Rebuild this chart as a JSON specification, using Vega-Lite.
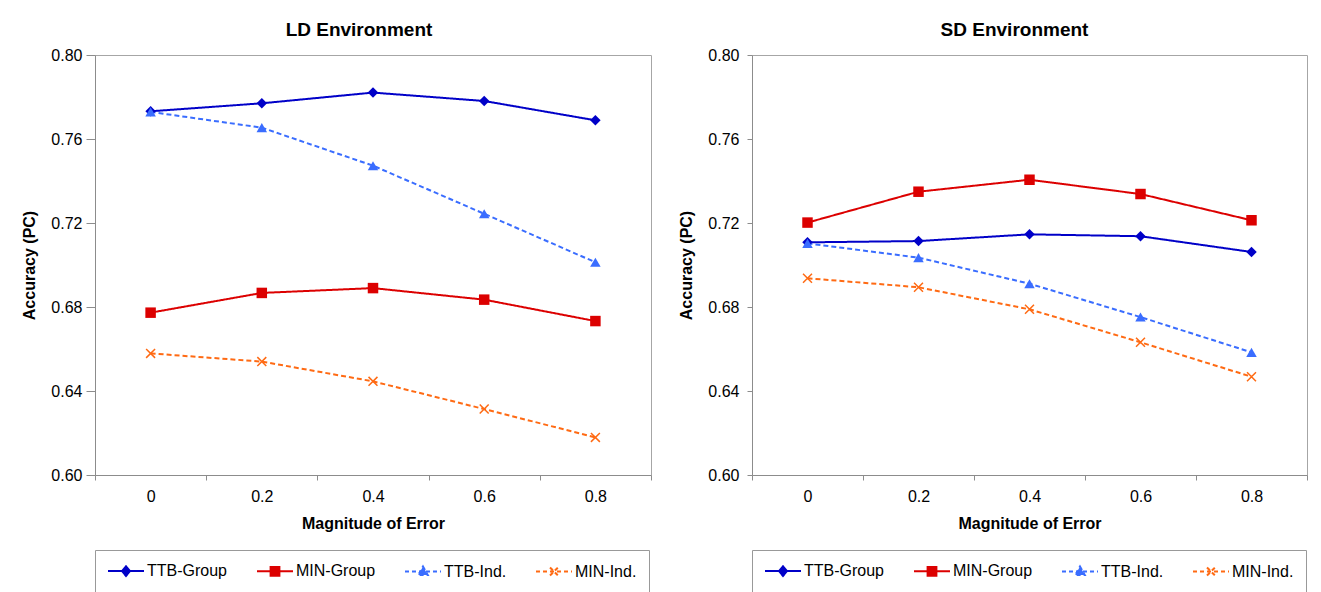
{
  "$schema": "https://vega.github.io/schema/vega-lite/v6.json",
  "background": "white",
  "padding": {"left": 21, "top": 20, "right": 5, "bottom": 0},
  "data": {"values": [
    {"panel": "LD", "series": "TTB-Group", "err": "0", "acc": 0.7732},
    {"panel": "LD", "series": "TTB-Group", "err": "0.2", "acc": 0.7770},
    {"panel": "LD", "series": "TTB-Group", "err": "0.4", "acc": 0.7821},
    {"panel": "LD", "series": "TTB-Group", "err": "0.6", "acc": 0.7781},
    {"panel": "LD", "series": "TTB-Group", "err": "0.8", "acc": 0.7689},
    {"panel": "LD", "series": "MIN-Group", "err": "0", "acc": 0.6773},
    {"panel": "LD", "series": "MIN-Group", "err": "0.2", "acc": 0.6867},
    {"panel": "LD", "series": "MIN-Group", "err": "0.4", "acc": 0.6890},
    {"panel": "LD", "series": "MIN-Group", "err": "0.6", "acc": 0.6835},
    {"panel": "LD", "series": "MIN-Group", "err": "0.8", "acc": 0.6733},
    {"panel": "LD", "series": "TTB-Ind.", "err": "0", "acc": 0.7729},
    {"panel": "LD", "series": "TTB-Ind.", "err": "0.2", "acc": 0.7654},
    {"panel": "LD", "series": "TTB-Ind.", "err": "0.4", "acc": 0.7473},
    {"panel": "LD", "series": "TTB-Ind.", "err": "0.6", "acc": 0.7244},
    {"panel": "LD", "series": "TTB-Ind.", "err": "0.8", "acc": 0.7013},
    {"panel": "LD", "series": "MIN-Ind.", "err": "0", "acc": 0.6579},
    {"panel": "LD", "series": "MIN-Ind.", "err": "0.2", "acc": 0.6540},
    {"panel": "LD", "series": "MIN-Ind.", "err": "0.4", "acc": 0.6446},
    {"panel": "LD", "series": "MIN-Ind.", "err": "0.6", "acc": 0.6314},
    {"panel": "LD", "series": "MIN-Ind.", "err": "0.8", "acc": 0.6179},
    {"panel": "SD", "series": "TTB-Group", "err": "0", "acc": 0.7108},
    {"panel": "SD", "series": "TTB-Group", "err": "0.2", "acc": 0.7114},
    {"panel": "SD", "series": "TTB-Group", "err": "0.4", "acc": 0.7146},
    {"panel": "SD", "series": "TTB-Group", "err": "0.6", "acc": 0.7137},
    {"panel": "SD", "series": "TTB-Group", "err": "0.8", "acc": 0.7062},
    {"panel": "SD", "series": "MIN-Group", "err": "0", "acc": 0.7202},
    {"panel": "SD", "series": "MIN-Group", "err": "0.2", "acc": 0.7349},
    {"panel": "SD", "series": "MIN-Group", "err": "0.4", "acc": 0.7406},
    {"panel": "SD", "series": "MIN-Group", "err": "0.6", "acc": 0.7338},
    {"panel": "SD", "series": "MIN-Group", "err": "0.8", "acc": 0.7213},
    {"panel": "SD", "series": "TTB-Ind.", "err": "0", "acc": 0.7103},
    {"panel": "SD", "series": "TTB-Ind.", "err": "0.2", "acc": 0.7035},
    {"panel": "SD", "series": "TTB-Ind.", "err": "0.4", "acc": 0.6911},
    {"panel": "SD", "series": "TTB-Ind.", "err": "0.6", "acc": 0.6752},
    {"panel": "SD", "series": "TTB-Ind.", "err": "0.8", "acc": 0.6584},
    {"panel": "SD", "series": "MIN-Ind.", "err": "0", "acc": 0.6937},
    {"panel": "SD", "series": "MIN-Ind.", "err": "0.2", "acc": 0.6894},
    {"panel": "SD", "series": "MIN-Ind.", "err": "0.4", "acc": 0.6789},
    {"panel": "SD", "series": "MIN-Ind.", "err": "0.6", "acc": 0.6632},
    {"panel": "SD", "series": "MIN-Ind.", "err": "0.8", "acc": 0.6468}
  ]},
  "config": {
    "font": "Liberation Sans",
    "view": {"stroke": "#a6a6a6", "strokeWidth": 1},
    "axis": {"labelFont": "Liberation Sans", "labelFontSize": 16, "labelColor": "#000", "titleFont": "Liberation Sans", "titleFontSize": 16, "titleFontWeight": "bold", "titleColor": "#000", "domainColor": "#8c8c8c", "tickColor": "#8c8c8c", "grid": false},
    "title": {"font": "Liberation Sans", "fontSize": 19, "fontWeight": "bold", "color": "#000"},
    "legend": {"labelFont": "Liberation Sans", "labelFontSize": 16, "labelColor": "#000", "orient": "bottom", "direction": "horizontal", "columns": 4, "symbolSize": 256, "symbolStrokeWidth": 2, "symbolOffset": 10, "labelOffset": 12, "columnPadding": 25, "padding": 12, "strokeColor": "#999", "fillColor": "white", "offset": 19},
    "concat": {"spacing": 26}
  },
  "resolve": {"legend": {"color": "independent"}},
  "hconcat": [
    {
      "title": {"text": "LD Environment", "offset": 7, "dx": -14},
      "width": 556, "height": 420,
      "transform": [{"filter": "datum.panel === 'LD'"}],
      "encoding": {
        "x": {"field": "err", "type": "ordinal", "sort": ["0", "0.2", "0.4", "0.6", "0.8"], "scale": {"type": "band", "paddingInner": 0, "paddingOuter": 0}, "axis": {"title": "Magnitude of Error", "labelAngle": 0, "tickBand": "extent", "tickSize": 5, "labelPadding": 8, "titlePadding": 11}},
        "y": {"field": "acc", "type": "quantitative", "scale": {"domain": [0.6, 0.8], "zero": false, "nice": false}, "axis": {"title": "Accuracy (PC)", "values": [0.6, 0.64, 0.68, 0.72, 0.76, 0.8], "format": ".2f", "tickSize": 9, "labelPadding": 4, "titlePadding": 13}}
      },
      "layer": [
        {"mark": {"type": "line", "strokeWidth": 2},
         "encoding": {
           "color": {"field": "series", "type": "nominal", "scale": {"domain": ["TTB-Group", "MIN-Group", "TTB-Ind.", "MIN-Ind."], "range": ["#0000c8", "#dc0000", "#3a6dff", "#ff6a13"]},
             "legend": {"title": null, "encode": {"symbols": {"update": {
               "shape": {"signal": "datum.value === 'TTB-Group' ? 'M-2.25,0H2.25M0,-0.6L0.5,0L0,0.6L-0.5,0Z' : datum.value === 'MIN-Group' ? 'M-2.25,0H2.25M-0.55,-0.55H0.55V0.55H-0.55Z' : datum.value === 'TTB-Ind.' ? 'M-2.25,0H2.25M0,-0.62L0.6,0.45H-0.6Z' : 'M-2.25,0H2.25M-0.5,-0.5L0.5,0.5M-0.5,0.5L0.5,-0.5'"},
               "fill": {"signal": "datum.value === 'TTB-Group' ? '#0000c8' : datum.value === 'MIN-Group' ? '#dc0000' : datum.value === 'TTB-Ind.' ? '#3a6dff' : '#ff6a13'"},
               "stroke": {"signal": "datum.value === 'TTB-Group' ? '#0000c8' : datum.value === 'MIN-Group' ? '#dc0000' : datum.value === 'TTB-Ind.' ? '#3a6dff' : '#ff6a13'"},
               "strokeDash": {"signal": "indexof(datum.value, 'Ind') >= 0 ? [4, 3] : [1, 0]"},
               "strokeWidth": {"value": 2},
               "opacity": {"value": 1}}}}}},
           "strokeDash": {"field": "series", "type": "nominal", "scale": {"domain": ["TTB-Group", "MIN-Group", "TTB-Ind.", "MIN-Ind."], "range": [[1, 0], [1, 0], [5, 3], [5, 3]]}, "legend": null}
         }},
        {"transform": [{"filter": "datum.series !== 'MIN-Ind.'"}],
         "mark": {"type": "point", "filled": true, "size": 110, "opacity": 1},
         "encoding": {
           "color": {"field": "series", "type": "nominal"},
           "shape": {"field": "series", "type": "nominal", "scale": {"domain": ["TTB-Group", "MIN-Group", "TTB-Ind.", "MIN-Ind."], "range": ["diamond", "square", "triangle-up", "M-1,-1L1,1M-1,1L1,-1"]}, "legend": null}
         }},
        {"transform": [{"filter": "datum.series === 'MIN-Ind.'"}],
         "mark": {"type": "point", "filled": false, "size": 80, "strokeWidth": 1.5, "opacity": 1},
         "encoding": {
           "color": {"field": "series", "type": "nominal"},
           "shape": {"field": "series", "type": "nominal", "legend": null}
         }}
      ]
    },
    {
      "title": {"text": "SD Environment", "offset": 7, "dx": -15},
      "width": 555, "height": 420,
      "transform": [{"filter": "datum.panel === 'SD'"}],
      "encoding": {
        "x": {"field": "err", "type": "ordinal", "sort": ["0", "0.2", "0.4", "0.6", "0.8"], "scale": {"type": "band", "paddingInner": 0, "paddingOuter": 0}, "axis": {"title": "Magnitude of Error", "labelAngle": 0, "tickBand": "extent", "tickSize": 5, "labelPadding": 8, "titlePadding": 11}},
        "y": {"field": "acc", "type": "quantitative", "scale": {"domain": [0.6, 0.8], "zero": false, "nice": false}, "axis": {"title": "Accuracy (PC)", "values": [0.6, 0.64, 0.68, 0.72, 0.76, 0.8], "format": ".2f", "tickSize": 5, "labelPadding": 8, "titlePadding": 13}}
      },
      "layer": [
        {"mark": {"type": "line", "strokeWidth": 2},
         "encoding": {
           "color": {"field": "series", "type": "nominal", "scale": {"domain": ["TTB-Group", "MIN-Group", "TTB-Ind.", "MIN-Ind."], "range": ["#0000c8", "#dc0000", "#3a6dff", "#ff6a13"]},
             "legend": {"title": null, "encode": {"symbols": {"update": {
               "shape": {"signal": "datum.value === 'TTB-Group' ? 'M-2.25,0H2.25M0,-0.6L0.5,0L0,0.6L-0.5,0Z' : datum.value === 'MIN-Group' ? 'M-2.25,0H2.25M-0.55,-0.55H0.55V0.55H-0.55Z' : datum.value === 'TTB-Ind.' ? 'M-2.25,0H2.25M0,-0.62L0.6,0.45H-0.6Z' : 'M-2.25,0H2.25M-0.5,-0.5L0.5,0.5M-0.5,0.5L0.5,-0.5'"},
               "fill": {"signal": "datum.value === 'TTB-Group' ? '#0000c8' : datum.value === 'MIN-Group' ? '#dc0000' : datum.value === 'TTB-Ind.' ? '#3a6dff' : '#ff6a13'"},
               "stroke": {"signal": "datum.value === 'TTB-Group' ? '#0000c8' : datum.value === 'MIN-Group' ? '#dc0000' : datum.value === 'TTB-Ind.' ? '#3a6dff' : '#ff6a13'"},
               "strokeDash": {"signal": "indexof(datum.value, 'Ind') >= 0 ? [4, 3] : [1, 0]"},
               "strokeWidth": {"value": 2},
               "opacity": {"value": 1}}}}}},
           "strokeDash": {"field": "series", "type": "nominal", "scale": {"domain": ["TTB-Group", "MIN-Group", "TTB-Ind.", "MIN-Ind."], "range": [[1, 0], [1, 0], [5, 3], [5, 3]]}, "legend": null}
         }},
        {"transform": [{"filter": "datum.series !== 'MIN-Ind.'"}],
         "mark": {"type": "point", "filled": true, "size": 110, "opacity": 1},
         "encoding": {
           "color": {"field": "series", "type": "nominal"},
           "shape": {"field": "series", "type": "nominal", "scale": {"domain": ["TTB-Group", "MIN-Group", "TTB-Ind.", "MIN-Ind."], "range": ["diamond", "square", "triangle-up", "M-1,-1L1,1M-1,1L1,-1"]}, "legend": null}
         }},
        {"transform": [{"filter": "datum.series === 'MIN-Ind.'"}],
         "mark": {"type": "point", "filled": false, "size": 80, "strokeWidth": 1.5, "opacity": 1},
         "encoding": {
           "color": {"field": "series", "type": "nominal"},
           "shape": {"field": "series", "type": "nominal", "legend": null}
         }}
      ]
    }
  ]
}
